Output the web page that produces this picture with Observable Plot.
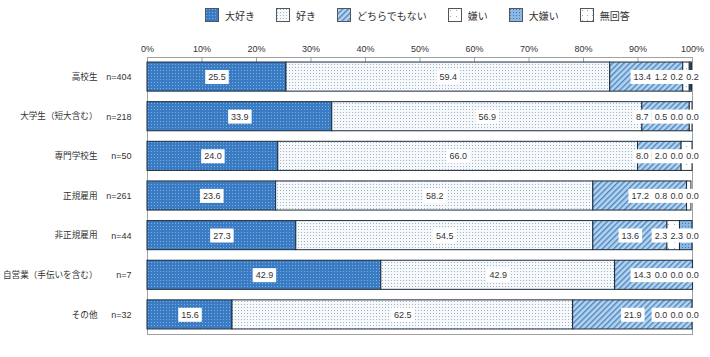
<!DOCTYPE html>
<html><head><meta charset="utf-8">
<script src="https://cdn.jsdelivr.net/npm/d3@7"></script>
<script src="https://cdn.jsdelivr.net/npm/@observablehq/plot@0.6"></script>
<style>
body{margin:0;background:#fff;font-family:"Noto Sans CJK JP","Noto Sans",sans-serif;}
#legend{height:30px;display:flex;align-items:center;padding-left:205px;font-size:10px;color:#333;box-sizing:border-box;}
.item{display:flex;align-items:center;margin-right:21px;}
.item svg{margin-right:6px;display:block}
</style></head><body>
<svg width="0" height="0" style="position:absolute">
<defs>
<pattern id="p0" width="3" height="3" patternUnits="userSpaceOnUse"><rect width="3" height="3" fill="#3a7cc4"/><rect x="1" y="1" width="1" height="1" fill="#7eaee0"/></pattern>
<pattern id="p1" width="3" height="3" patternUnits="userSpaceOnUse"><rect width="3" height="3" fill="#f6f9fc"/><rect x="1" y="1" width="1" height="1" fill="#a4b2c2"/></pattern>
<pattern id="p2" width="4" height="4" patternUnits="userSpaceOnUse" patternTransform="rotate(45)"><rect width="4" height="4" fill="#b7d4ee"/><rect x="0" y="0" width="1.4" height="4" fill="#4a86c2"/></pattern>
<pattern id="p3" width="6" height="6" patternUnits="userSpaceOnUse"><rect width="6" height="6" fill="#ffffff"/><rect x="2" y="2" width="1" height="1" fill="#9aa8b8"/></pattern>
<pattern id="p4" width="3" height="3" patternUnits="userSpaceOnUse"><rect width="3" height="3" fill="#8ab8e4"/><rect x="1" y="1" width="1" height="1" fill="#3d78b8"/></pattern>
<pattern id="p5" width="5" height="5" patternUnits="userSpaceOnUse"><rect width="5" height="5" fill="#fbfdff"/><rect x="2" y="2" width="1" height="1" fill="#9aa8b8"/></pattern>
</defs></svg>
<div id="legend"></div>
<div id="chart"></div>
<script>
const categories = ["高校生","大学生（短大含む）","専門学校生","正規雇用","非正規雇用","自営業（手伝いを含む）","その他"];
const counts = [404,218,50,261,44,7,32];
const seriesNames = ["大好き","好き","どちらでもない","嫌い","大嫌い","無回答"];
const daisuki  = [25.5,33.9,24.0,23.6,27.3,42.9,15.6];
const suki     = [59.4,56.9,66.0,58.2,54.5,42.9,62.5];
const dochira  = [13.4,8.7,8.0,17.2,13.6,14.3,21.9];
const kirai    = [1.2,0.5,2.0,0.8,2.3,0.0,0.0];
const daikirai = [0.2,0.0,0.0,0.0,2.3,0.0,0.0];
const mukaitou = [0.2,0.0,0.0,0.0,0.0,0.0,0.0];
const xTicks = [0,10,20,30,40,50,60,70,80,90,100];

const seriesValues = [daisuki, suki, dochira, kirai, daikirai, mukaitou];
const patterns = seriesNames.map((s,i)=>`url(#p${i})`);

const rows = [];
const labels = [];
categories.forEach((c,i)=>{
  let cum = 0;
  seriesValues.forEach((arr,j)=>{
    const v = arr[i];
    rows.push({cat:c, series:seriesNames[j], value:v});
    const center = cum + v/2;
    let lx;
    if (j < 2) lx = center;
    else if (j === 2) lx = Math.min(center, 90.8);
    else lx = [94.2, 97.1, 100][j-3];
    labels.push({cat:c, series:seriesNames[j], value:v, lx});
    cum += v;
  });
});

// legend
const lg = document.getElementById("legend");
seriesNames.forEach((s,i)=>{
  const it = document.createElement("div"); it.className="item";
  it.innerHTML = `<svg width="14" height="14"><rect x="0.5" y="0.5" width="13" height="13" fill="url(#p${i})" stroke="#555" stroke-width="1"/></svg><span>${s}</span>`;
  lg.appendChild(it);
});

const numFont = '"Liberation Sans","DejaVu Sans",sans-serif';
const chart = Plot.plot({
  width: 710,
  height: 327,
  marginTop: 27,
  marginBottom: 23,
  marginLeft: 147,
  marginRight: 18,
  style: {fontFamily: '"Noto Sans CJK JP","Noto Sans",sans-serif', color: "#333", background: "#fff"},
  x: {domain: [0,100], axis: null},
  y: {domain: categories, paddingInner: 0.266, paddingOuter: 0.127, round: false, axis: null},
  color: {domain: seriesNames, range: patterns},
  marks: [
    Plot.frame({stroke: "#a0a0a0"}),
    Plot.axisX({anchor: "top", ticks: xTicks, tickSize: 0, tickPadding: 6, fontSize: 9, fontFamily: numFont, tickFormat: d => d + "%", label: null}),
    Plot.axisX({anchor: "top", ticks: xTicks, tickSize: -4, text: null, stroke: "#a0a0a0", label: null}),
    Plot.axisY({anchor: "left", tickSize: 0, tickPadding: 16, fontSize: 9, fontFamily: numFont, label: null, tickFormat: d => "n=" + counts[categories.indexOf(d)]}),
    Plot.axisY({anchor: "left", tickSize: 0, tickPadding: 50, fontSize: 8.6, label: null, tickFormat: d => d}),
    Plot.barX(rows, Plot.stackX({x: "value", y: "cat", fill: "series", stroke: "#1d2b3a", strokeWidth: 1})),
    Plot.text(labels, {x: "lx", y: "cat", text: d => d.value.toFixed(1), fontSize: 9, fontFamily: numFont, fill: "#333", className: "vlabels"})
  ]
});
document.getElementById("chart").appendChild(chart);

// white boxes behind value labels
const ns = "http://www.w3.org/2000/svg";
chart.querySelectorAll(".vlabels text").forEach(t => {
  const b = t.getBBox();
  const r = document.createElementNS(ns, "rect");
  r.setAttribute("x", b.x - 3);
  r.setAttribute("y", b.y - 2);
  r.setAttribute("width", b.width + 6);
  r.setAttribute("height", b.height + 4);
  r.setAttribute("fill", "#fff");
  const tr = t.getAttribute("transform");
  if (tr) r.setAttribute("transform", tr);
  t.parentNode.insertBefore(r, t);
});
</script>
</body></html>
